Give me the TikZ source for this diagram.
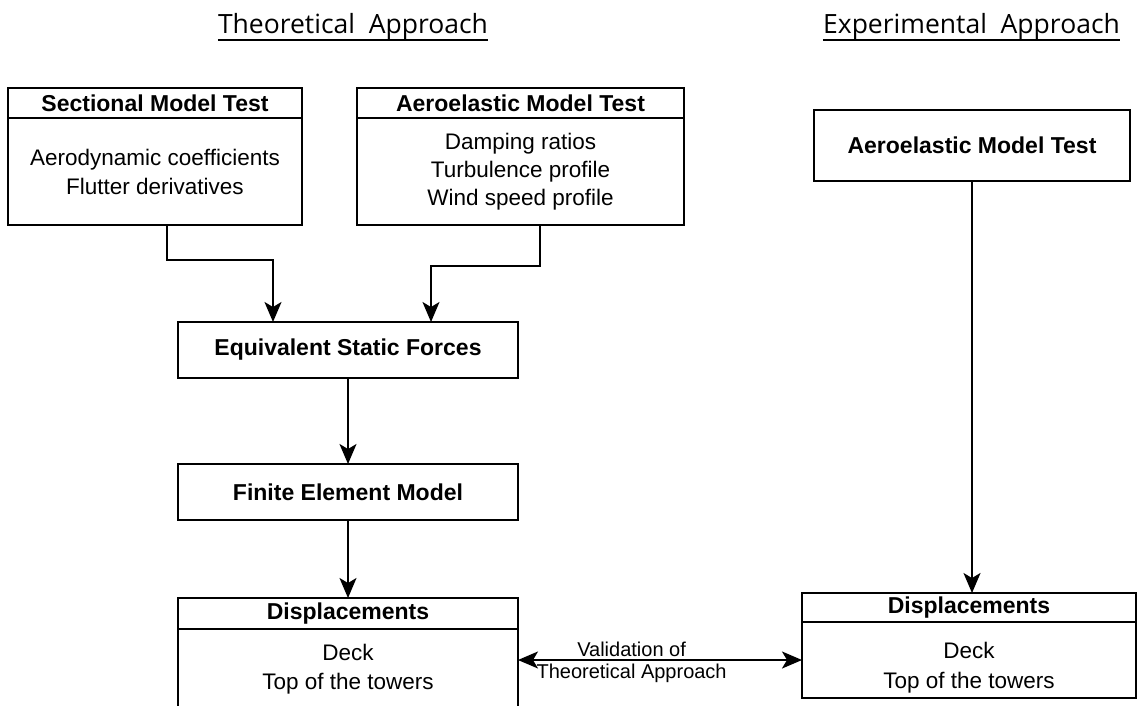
\documentclass[tikz,border=0pt]{standalone}
\usepackage{fontspec}
\usetikzlibrary{arrows.meta}
\newfontfamily\boxfont{Liberation Sans}
\newfontfamily\titlefont{Open Sans}

\begin{document}
\begin{tikzpicture}[x=1pt, y=1pt,
    box/.style={draw, line width=1.8pt, inner sep=0pt, outer sep=0pt, align=center},
    head/.style={box, font=\boxfont\bfseries\fontsize{23}{27}\selectfont},
    body/.style={box, font=\boxfont\fontsize{22.5}{29}\selectfont},
    title/.style={font=\titlefont\fontsize{26.5}{30}\selectfont, inner sep=0pt, anchor=base},
    arr/.style={-{Stealth[length=20pt, width=17pt, inset=5pt]}, line width=1.8pt}]
  \clip (0,0) rectangle (1138,-705);

  % headings of the two approaches
  \node[title] (theo) at (353,-33) {Theoretical\ \ Approach};
  \draw[line width=2pt] (theo.south west) -- (theo.south east);
  \node[title] (expe) at (971.5,-33) {Experimental\ \ Approach};
  \draw[line width=2pt] (expe.south west) -- (expe.south east);

  % theoretical side
  \node[head, minimum width=294, minimum height=30] (smt) at (155,-103) {Sectional Model Test};
  \node[body, minimum width=294, minimum height=107, anchor=north] (smtb) at (smt.south)
    {Aerodynamic coefficients\\Flutter derivatives};
  \node[head, minimum width=327, minimum height=30] (amt) at (520.5,-103) {Aeroelastic Model Test};
  \node[body, minimum width=327, minimum height=107, anchor=north, font=\boxfont\fontsize{22.5}{28}\selectfont] (amtb) at (amt.south)
    {Damping ratios\\Turbulence profile\\Wind speed profile};

  \node[head, minimum width=340, minimum height=56] (esf) at (348,-350) {Equivalent Static Forces};
  \node[head, minimum width=340, minimum height=56] (fem) at (348,-492) {Finite Element Model};
  \node[head, minimum width=340, minimum height=31] (ldisp) at (348,-613.5) {Displacements};
  \node[body, minimum width=340, minimum height=80, anchor=north] (ldispb) at (ldisp.south)
    {Deck\\Top of the towers};

  % experimental side
  \node[head, minimum width=316, minimum height=71] (ramt) at (972,-145.5) {Aeroelastic Model Test};
  \node[head, minimum width=334, minimum height=29] (rdisp) at (969,-607.5) {Displacements};
  \node[body, minimum width=334, minimum height=76, anchor=north, font=\boxfont\fontsize{22.5}{30}\selectfont] (rdispb) at (rdisp.south)
    {\rule{0pt}{31pt}Deck\\Top of the towers};

  % connectors
  \draw[arr] ([xshift=12pt]smtb.south) -- ++(0,-35) -| ([xshift=-75pt]esf.north);
  \draw[arr] ([xshift=19.5pt]amtb.south) -- ++(0,-41) -| ([xshift=83pt]esf.north);
  \draw[arr] (esf) -- (fem);
  \draw[arr] (fem) -- (ldisp);
  \draw[arr] (ramt) -- (ramt |- rdisp.north);
  \draw[{Stealth[length=20pt, width=17pt, inset=5pt]}-{Stealth[length=20pt, width=17pt, inset=5pt]}, line width=1.8pt]
    (ldispb.east |- rdispb.west) --
      node[pos=0.4, above, inner sep=2pt, font=\boxfont\fontsize{20}{24}\selectfont] {Validation of}
      node[pos=0.4, below, inner sep=3pt, font=\boxfont\fontsize{20}{24}\selectfont] {Theoretical Approach}
    (rdispb.west);
\end{tikzpicture}
\end{document}
